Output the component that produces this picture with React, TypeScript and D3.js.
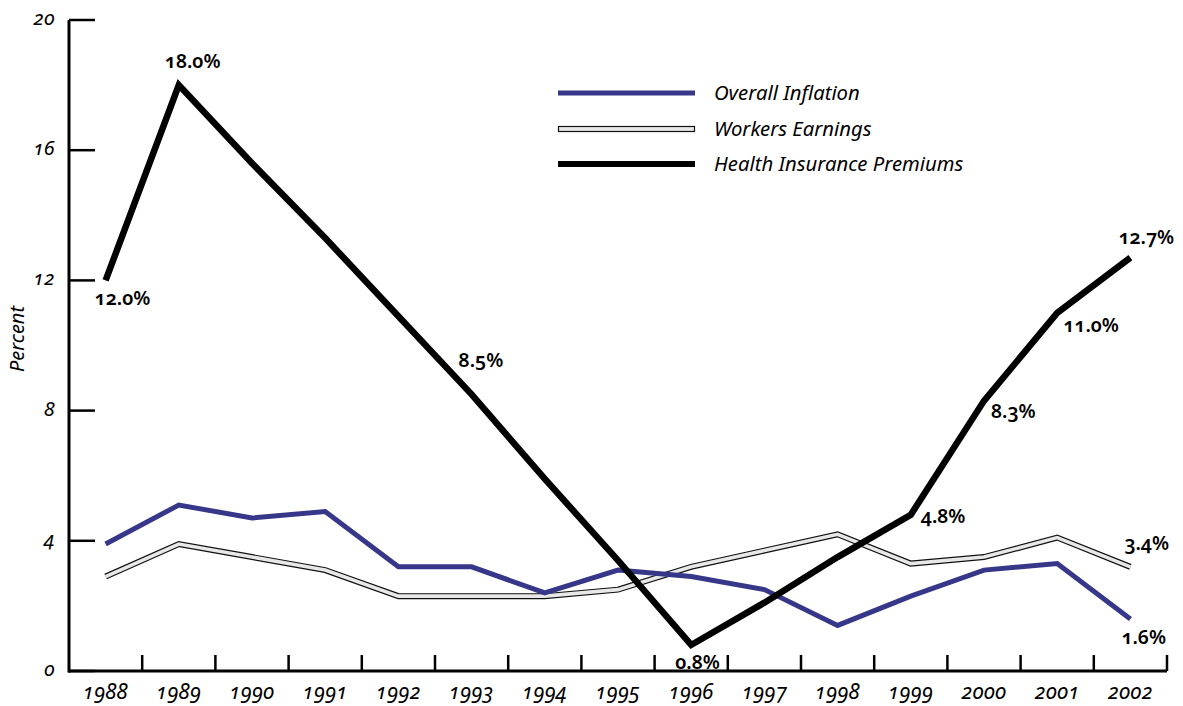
import React from "react";
import * as d3 from "d3";

const years = ["1988","1989","1990","1991","1992","1993","1994","1995","1996","1997","1998","1999","2000","2001","2002"];
const inflation = [3.9, 5.1, 4.7, 4.9, 3.2, 3.2, 2.4, 3.1, 2.9, 2.5, 1.4, 2.3, 3.1, 3.3, 1.6];
const earnings = [2.9, 3.9, 3.5, 3.1, 2.3, 2.3, 2.3, 2.5, 3.2, 3.7, 4.2, 3.3, 3.5, 4.1, 3.2];
const premiums = [12.0, 18.0, 15.6, 13.3, 10.9, 8.5, 5.9, 3.4, 0.8, 2.1, 3.5, 4.8, 8.3, 11.0, 12.7];
const yTicks = [0, 4, 8, 12, 16, 20];
const legendLabels = ["Overall Inflation", "Workers Earnings", "Health Insurance Premiums"];
const annotations = [
  { year: "1988", text: "12.0%", dx: -11, dy: 25 },
  { year: "1989", text: "18.0%", dx: -14, dy: -17 },
  { year: "1993", text: "8.5%", dx: -13, dy: -27 },
  { year: "1996", text: "0.8%", dx: -16, dy: 24 },
  { year: "1999", text: "4.8%", dx: 10, dy: 8 },
  { year: "2000", text: "8.3%", dx: 7, dy: 17 },
  { year: "2001", text: "11.0%", dx: 6, dy: 19 },
  { year: "2002", text: "12.7%", dx: -12, dy: -14 },
];
const earnAnn = { year: "2002", text: "3.4%", dx: -6, dy: -17 };
const inflAnn = { year: "2002", text: "1.6%", dx: -9, dy: 25 };

const W = 1183, H = 706;
const FONT = "'Noto Sans', 'Open Sans', sans-serif";
const BLUE = "#363789";

export default function App() {
  const x = d3.scaleBand<string>().domain(years).range([69, 1167]).paddingInner(0).paddingOuter(0);
  const y = d3.scaleLinear().domain([0, 20]).range([671, 20]);
  const cx = (yr: string) => (x(yr) as number) + x.bandwidth() / 2;
  const line = d3.line<number>().x((_, i) => cx(years[i])).y((v) => y(v));
  const idx = (yr: string) => years.indexOf(yr);
  const numStyle: React.CSSProperties = { fontFeatureSettings: "'onum' 1", fontVariantNumeric: "oldstyle-nums" };

  const legendY = [93, 129, 164];

  return (
    <svg width={W} height={H} style={{ position: "absolute", left: 0, top: 0, background: "#fff" }} fontFamily={FONT}>
      <rect x={0} y={0} width={W} height={H} fill="#fff" />
      {/* Axes */}
      <line x1={69} x2={69} y1={y(20)} y2={y(0) + 1.5} stroke="#000" strokeWidth={3} />
      <line x1={68} x2={1167} y1={y(0)} y2={y(0)} stroke="#000" strokeWidth={3} />
      {yTicks.map((t) => (
        <g key={t}>
          <line x1={69} x2={95} y1={y(t)} y2={y(t)} stroke="#000" strokeWidth={2.5} />
          <text x={55} y={y(t) + 5} textAnchor="end" fontSize={20} fontStyle="italic" letterSpacing={0.5} style={numStyle}>{t}</text>
        </g>
      ))}
      {years.map((yr) => (
        <g key={yr}>
          <line x1={(x(yr) as number) + x.bandwidth()} x2={(x(yr) as number) + x.bandwidth()} y1={y(0)} y2={y(0) - 16} stroke="#000" strokeWidth={2.5} />
          <text x={cx(yr)} y={699} textAnchor="middle" fontSize={21} fontStyle="italic" letterSpacing={0.5} style={numStyle}>{yr}</text>
        </g>
      ))}
      <text transform={`translate(24,339) rotate(-90)`} textAnchor="middle" fontSize={20} fontStyle="italic">Percent</text>

      {/* Series */}
      <path d={line(earnings) || ""} fill="none" stroke="#111" strokeWidth={6} strokeLinejoin="miter" />
      <path d={line(earnings) || ""} fill="none" stroke="#e8e8e8" strokeWidth={3.6} strokeLinejoin="miter" />
      <path d={line(inflation) || ""} fill="none" stroke={BLUE} strokeWidth={5} strokeLinejoin="miter" />
      <path d={line(premiums) || ""} fill="none" stroke="#000" strokeWidth={6.5} strokeLinejoin="miter" />

      {/* Annotations */}
      {annotations.map((a) => (
        <text key={a.text} x={cx(a.year) + a.dx} y={y(premiums[idx(a.year)]) + a.dy} fontSize={19.5} fontWeight={600} style={numStyle}>{a.text}</text>
      ))}
      <text x={cx(earnAnn.year) + earnAnn.dx} y={y(earnings[idx(earnAnn.year)]) + earnAnn.dy} fontSize={19.5} fontWeight={600} style={numStyle}>{earnAnn.text}</text>
      <text x={cx(inflAnn.year) + inflAnn.dx} y={y(inflation[idx(inflAnn.year)]) + inflAnn.dy} fontSize={19.5} fontWeight={600} style={numStyle}>{inflAnn.text}</text>

      {/* Legend */}
      <line x1={558} x2={695} y1={legendY[0]} y2={legendY[0]} stroke={BLUE} strokeWidth={5} />
      <rect x={558.5} y={legendY[1] - 2.5} width={136} height={5} fill="#e8e8e8" stroke="#111" strokeWidth={1.2} />
      <line x1={558} x2={695} y1={legendY[2]} y2={legendY[2]} stroke="#000" strokeWidth={6} />
      {legendLabels.map((l, i) => (
        <text key={l} x={714} y={legendY[i] + 7} fontSize={20.3} fontStyle="italic">{l}</text>
      ))}
    </svg>
  );
}
